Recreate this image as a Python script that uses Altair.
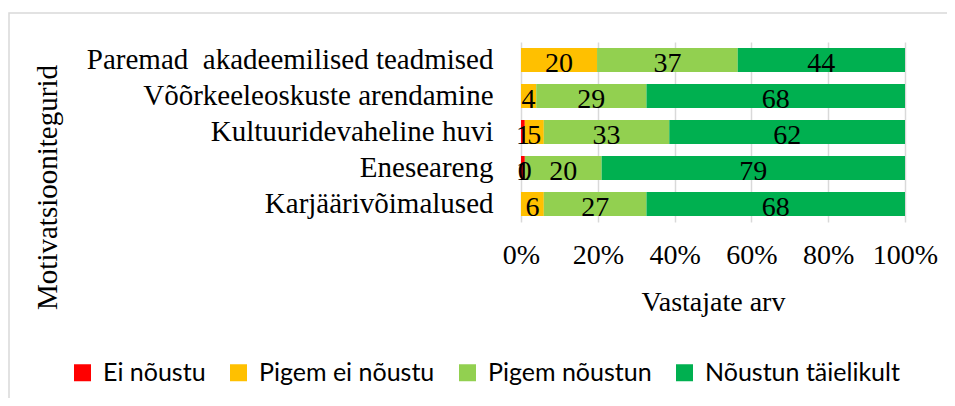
import altair as alt
import pandas as pd

categories = [
    "Paremad\u00a0 akadeemilised teadmised",
    "Võõrkeeleoskuste arendamine",
    "Kultuuridevaheline huvi",
    "Eneseareng",
    "Karjäärivõimalused",
]
series = ["Ei nõustu", "Pigem ei nõustu", "Pigem nõustun", "Nõustun täielikult"]
colors = ["#FF0000", "#FFC000", "#92D050", "#00B050"]

ei_noustu = [None, None, 1, 1, None]
pigem_ei_noustu = [20, 4, 5, 0, 6]
pigem_noustun = [37, 29, 33, 20, 27]
noustun_taielikult = [44, 68, 62, 79, 68]

ticks = [0, 0.2, 0.4, 0.6, 0.8, 1.0]

rows = []
for si, (name, vals) in enumerate(zip(series, [ei_noustu, pigem_ei_noustu, pigem_noustun, noustun_taielikult])):
    for c, v in zip(categories, vals):
        if v is not None:
            rows.append({"category": c, "series": name, "order": si, "value": v})
df = pd.DataFrame(rows)

serif = "Liberation Serif"

base = alt.Chart(df).transform_stack(
    stack="value",
    groupby=["category"],
    as_=["v0", "v1"],
    offset="normalize",
    sort=[alt.SortField("order", order="ascending")],
).transform_calculate(mid="(datum.v0 + datum.v1) / 2")

yenc = alt.Y(
    "category:N",
    sort=categories,
    scale=alt.Scale(paddingInner=1 / 3, paddingOuter=1 / 6),
    axis=alt.Axis(
        title="Motivatsioonitegurid",
        titleFont=serif,
        titleFontSize=29,
        titleFontWeight="normal",
        titleColor="black",
        titleX=-459,
        titleY=145,
        titleAngle=270,
        titleBaseline="bottom",
        titleAlign="center",
        labelFont=serif,
        labelFontSize=29,
        labelColor="black",
        labelPadding=28,
        labelLimit=800,
        ticks=False,
        tickSize=0,
        domain=False,
        grid=False,
    ),
)

bars = base.mark_bar().encode(
    y=yenc,
    x=alt.X(
        "v0:Q",
        scale=alt.Scale(domain=[0, 1]),
        axis=alt.Axis(
            values=ticks,
            format="%",
            grid=True,
            gridColor="#D9D9D9",
            gridWidth=1.5,
            ticks=False,
            tickSize=0,
            domain=False,
            labelFont=serif,
            labelFontSize=28,
            labelColor="black",
            labelPadding=19,
            labelFlush=False,
            labelOverlap=False,
            title="Vastajate arv",
            titleFont=serif,
            titleFontSize=28,
            titleFontWeight="normal",
            titleColor="black",
            titleX=192,
            titleY=66,
            titleBaseline="top",
            titleAlign="center",
        ),
    ),
    x2="v1:Q",
    order=alt.Order("order:Q"),
    color=alt.Color(
        "series:N",
        scale=alt.Scale(domain=series, range=colors),
        legend=alt.Legend(
            orient="none",
            legendX=-451,
            legendY=318,
            direction="horizontal",
            columns=4,
            title=None,
            labelFont="Lato",
            labelFontSize=25,
            labelColor="black",
            labelLimit=500,
            labelOffset=8,
            columnPadding=20,
            padding=0,
            symbolType="square",
            symbolSize=289,
            symbolStrokeWidth=0,
            symbolOpacity=1,
        ),
    ),
)

labels = base.mark_text(font=serif, fontSize=28, color="black", dy=4).encode(
    y=alt.Y("category:N", sort=categories),
    x=alt.X("mid:Q"),
    text=alt.Text("value:Q"),
)

frame = alt.Chart(pd.DataFrame({"f": [0]})).mark_rect(
    fill="transparent", stroke="#D9D9D9", strokeWidth=1.5
).encode(
    x=alt.value(-512), x2=alt.value(439), y=alt.value(-29), y2=alt.value(368)
)

chart = alt.layer(frame, bars, labels).properties(
    width=384,
    height=180,
    padding={"left": 513, "top": 34, "right": 42, "bottom": 176},
    autosize=alt.AutoSizeParams(type="none"),
    background="white",
).configure_view(strokeWidth=0)

chart.save("out.html", embed_options={"renderer": "svg", "actions": False})
